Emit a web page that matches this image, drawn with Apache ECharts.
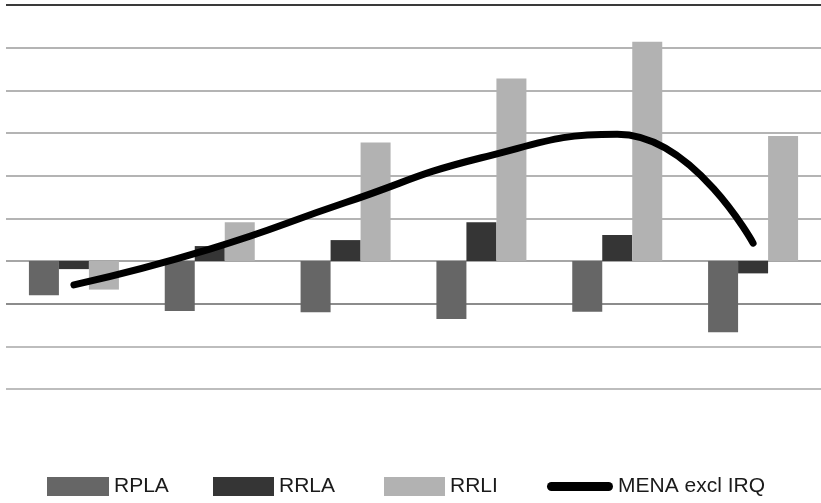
<!DOCTYPE html>
<html>
<head>
<meta charset="utf-8">
<script src="https://cdn.jsdelivr.net/npm/echarts@6/dist/echarts.min.js"></script>
<style>
html,body{margin:0;padding:0;background:#fff;}
#chart{width:821px;height:503px;}
</style>
</head>
<body>
<div id="chart"></div>
<script>
var categories = ['1', '2', '3', '4', '5', '6'];
var rpla = [-0.80, -1.17, -1.20, -1.36, -1.19, -1.67];
var rrla = [-0.19, 0.35, 0.49, 0.91, 0.61, -0.29];
var rrli = [-0.67, 0.91, 2.78, 4.28, 5.14, 2.93];
var mena = [-0.56, 0.28, 1.37, 2.42, 2.97, 0.42];
var yTicks = [-3, -2, -1, 0, 1, 2, 3, 4, 5, 6];

var chart = echarts.init(document.getElementById('chart'), null, {renderer: 'canvas'});
var font = "'Liberation Sans', Arial, sans-serif";
var legendText = {fontFamily: font, fontSize: 21, color: '#1a1a1a'};
var gridColors = ['#bdbdbd', '#bdbdbd', '#8c8c8c', '#a6a6a6', '#b4b4b4', '#b4b4b4', '#b4b4b4', '#b4b4b4', '#b4b4b4', '#3a3a3a'];

var option = {
  backgroundColor: '#ffffff',
  animation: false,
  grid: {left: 6, right: 0, top: 5, bottom: 114, containLabel: false},
  legend: [
    {data: ['RPLA'], left: 47, top: 476, itemWidth: 62, itemHeight: 19, icon: 'rect', textStyle: legendText, padding: 0},
    {data: ['RRLA'], left: 213, top: 476, itemWidth: 61, itemHeight: 19, icon: 'rect', textStyle: legendText, padding: 0},
    {data: ['RRLI'], left: 384, top: 476, itemWidth: 61, itemHeight: 19, icon: 'rect', textStyle: legendText, padding: 0},
    {data: ['MENA excl IRQ'], left: 547, top: 476, itemWidth: 66, itemHeight: 9,
     icon: 'path://M4.5,0 L61.5,0 A4.5,4.5 0 0 1 61.5,9 L4.5,9 A4.5,4.5 0 0 1 4.5,0 Z',
     textStyle: legendText, padding: 0}
  ],
  xAxis: {
    type: 'category',
    data: categories,
    axisLine: {show: false},
    axisTick: {show: false},
    axisLabel: {show: false},
    splitLine: {show: false}
  },
  yAxis: {
    type: 'value',
    min: yTicks[0],
    max: yTicks[yTicks.length - 1],
    interval: 1,
    axisLine: {show: false},
    axisTick: {show: false},
    axisLabel: {show: false},
    splitLine: {show: true, lineStyle: {color: gridColors, width: 2}}
  },
  series: [
    {name: 'RPLA', type: 'bar', data: rpla, barWidth: 30, barGap: '0%', itemStyle: {color: '#666666'}},
    {name: 'RRLA', type: 'bar', data: rrla, barWidth: 30, barGap: '0%', itemStyle: {color: '#353535'}},
    {name: 'RRLI', type: 'bar', data: rrli, barWidth: 30, barGap: '0%', itemStyle: {color: '#b2b2b2'}},
    {name: 'MENA excl IRQ', type: 'line', data: mena, smooth: 0.5, symbol: 'none', z: 5,
     itemStyle: {color: '#000000'},
     lineStyle: {color: '#000000', width: 7, cap: 'round', join: 'round'}}
  ]
};
chart.setOption(option);
</script>
</body>
</html>
